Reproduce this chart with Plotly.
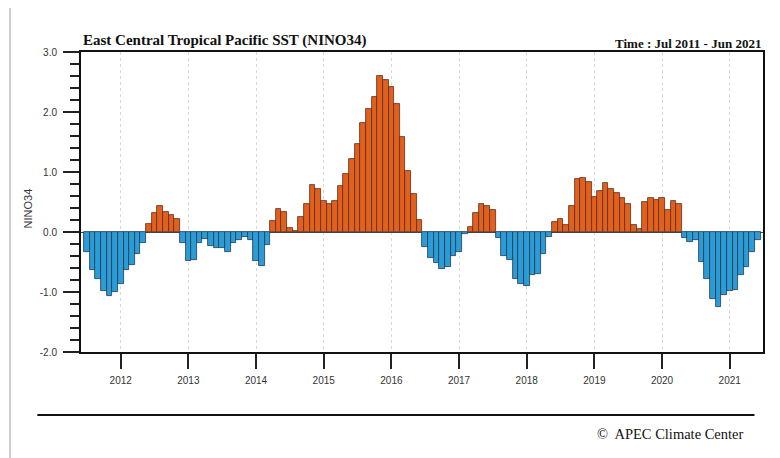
import pandas as pd
import plotly.graph_objects as go

# Monthly NINO3.4 SST anomaly, Jul 2011 - Jun 2021
months = pd.date_range("2011-07-01", periods=120, freq="MS")
nino34 = [
    -0.34, -0.63, -0.79, -0.98, -1.07, -1.00, -0.87, -0.63, -0.55, -0.37, -0.19, 0.13,
    0.32, 0.44, 0.34, 0.28, 0.22, -0.18, -0.49, -0.47, -0.19, -0.11, -0.24, -0.26,
    -0.26, -0.34, -0.19, -0.14, -0.08, -0.14, -0.48, -0.56, -0.22, 0.18, 0.39, 0.33,
    0.07, 0.01, 0.25, 0.46, 0.78, 0.72, 0.52, 0.47, 0.52, 0.77, 0.97, 1.22,
    1.46, 1.82, 2.05, 2.25, 2.60, 2.53, 2.41, 2.13, 1.59, 1.02, 0.63, 0.20,
    -0.25, -0.44, -0.51, -0.62, -0.58, -0.40, -0.34, -0.04, 0.09, 0.31, 0.46, 0.44,
    0.36, -0.10, -0.40, -0.47, -0.79, -0.86, -0.90, -0.72, -0.70, -0.36, -0.08, 0.16,
    0.22, 0.12, 0.43, 0.88, 0.90, 0.84, 0.59, 0.68, 0.81, 0.71, 0.65, 0.57,
    0.47, 0.11, 0.05, 0.50, 0.57, 0.53, 0.57, 0.36, 0.51, 0.46, -0.10, -0.16,
    -0.14, -0.50, -0.78, -1.12, -1.25, -1.05, -0.98, -0.96, -0.71, -0.58, -0.34, -0.14,
]

x = list(range(len(months)))
jan_idx = [i for i, m in enumerate(months) if m.month == 1]
year_labels = [str(months[i].year) for i in jan_idx]

fill = ['#E2601E' if v >= 0 else '#2B9CD6' for v in nino34]
edge = ['#5b2e18' if v >= 0 else '#1f3a52' for v in nino34]

fig = go.Figure()
fig.add_trace(go.Bar(
    x=x, y=nino34, width=1.0,
    marker=dict(color=fill, line=dict(color=edge, width=0.8)),
    showlegend=False,
))

# page body has an 8px margin, so the figure is 8px smaller than the window
fig.update_layout(
    width=772,
    height=450,
    margin=dict(l=73, r=17, t=44, b=106),
    plot_bgcolor='white',
    paper_bgcolor='white',
    bargap=0,
    font=dict(family='Liberation Sans, Arial', size=10, color='#333333'),
    xaxis=dict(
        range=[-1.04, 119.9],
        tickmode='array',
        tickvals=jan_idx,
        ticktext=year_labels,
        ticks='outside',
        ticklen=15,
        tickwidth=2,
        tickcolor='#222222',
        ticklabelstandoff=3,
        showline=True,
        linecolor='#111111',
        linewidth=2,
        mirror=True,
        showgrid=True,
        gridcolor='#d8d8d8',
        griddash='dot',
        gridwidth=1,
        zeroline=False,
    ),
    yaxis=dict(
        range=[-2, 3],
        tickmode='array',
        tickvals=[-2, -1, 0, 1, 2, 3],
        ticktext=['-2.0', '-1.0', '0.0', '1.0', '2.0', '3.0'],
        ticks='outside',
        ticklen=16,
        tickwidth=2,
        tickcolor='#222222',
        ticklabelstandoff=4,
        minor=dict(dtick=0.2, ticks='outside', ticklen=9, tickwidth=1.5, tickcolor='#222222'),
        showline=True,
        linecolor='#111111',
        linewidth=2,
        mirror=True,
        showgrid=False,
        zeroline=True,
        zerolinecolor='#444444',
        zerolinewidth=1,
    ),
)

# titles and footer
fig.add_annotation(
    text='<b>East Central Tropical Pacific SST (NINO34)</b>',
    xref='paper', yref='paper', x=0, y=1.0, yshift=1,
    xanchor='left', yanchor='bottom', showarrow=False,
    font=dict(family='Liberation Serif, Times New Roman', size=15, color='#111111'),
)
fig.add_annotation(
    text='<b>Time : Jul 2011 - Jun 2021</b>',
    xref='paper', yref='paper', x=1.0, y=1.0, yshift=-1,
    xanchor='right', yanchor='bottom', showarrow=False,
    font=dict(family='Liberation Serif, Times New Roman', size=13, color='#111111'),
)
fig.add_annotation(
    text='NINO34', textangle=-90,
    xref='paper', yref='paper', x=-0.077, y=0.48,
    xanchor='center', yanchor='middle', showarrow=False,
    font=dict(family='Liberation Sans, Arial', size=11, color='#333333'),
)
fig.add_annotation(
    text='©  APEC Climate Center',
    xref='paper', yref='paper', x=0.975, y=-0.273,
    xanchor='right', yanchor='middle', showarrow=False,
    font=dict(family='Liberation Serif, Times New Roman', size=14.5, color='#111111'),
)

# footer rule and left page border
fig.add_shape(type='line', xref='paper', yref='paper',
              x0=-0.064, x1=0.9875, y0=-0.21, y1=-0.21,
              line=dict(color='#111111', width=2))
fig.add_shape(type='line', xref='paper', yref='paper',
              x0=-0.104, x1=-0.104, y0=-0.353, y1=1.147,
              line=dict(color='#cccccc', width=2))

fig.write_html("out.html")
